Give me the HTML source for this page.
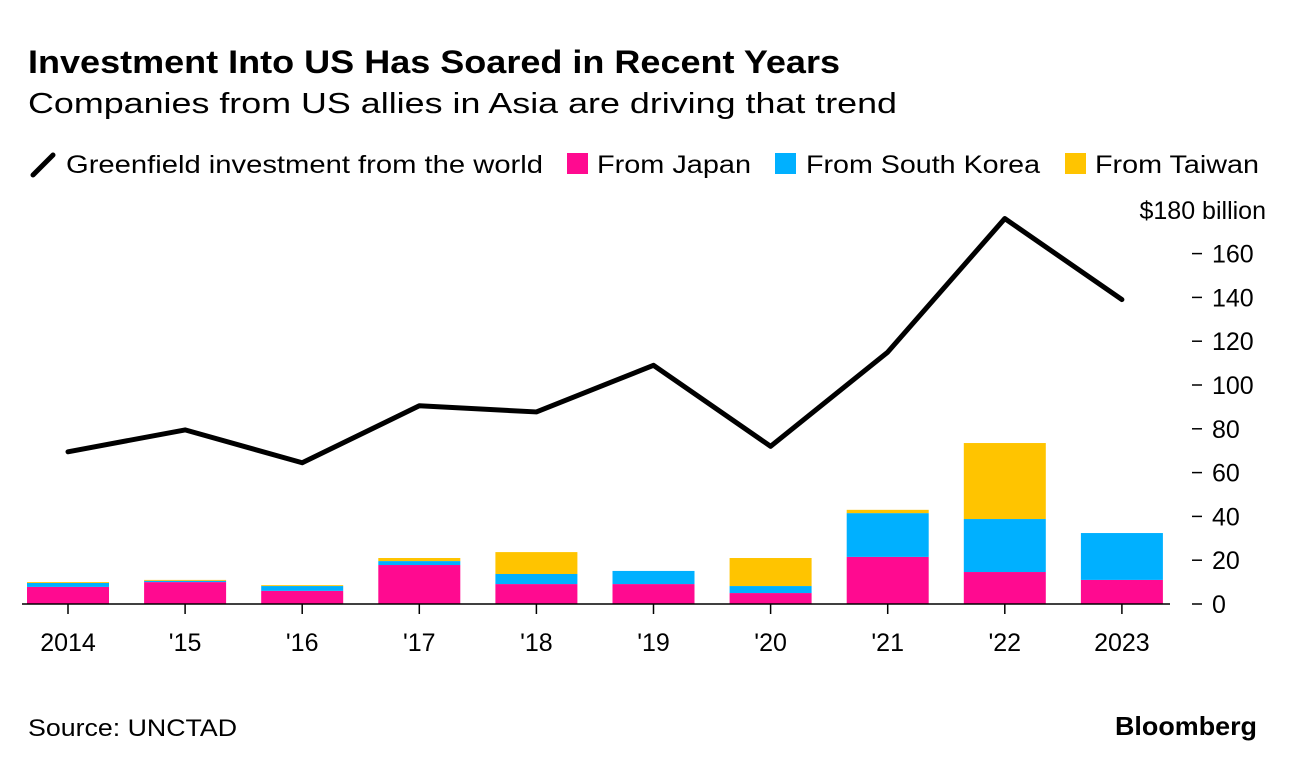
<!DOCTYPE html>
<html><head><meta charset="utf-8"><style>
body{margin:0;background:#fff;font-family:"Liberation Sans",sans-serif;}
svg text{font-family:"Liberation Sans",sans-serif;}
</style></head><body>
<svg width="1296" height="770" viewBox="0 0 1296 770">
<text x="28" y="73" font-size="32" font-weight="bold" fill="#000" textLength="812" lengthAdjust="spacingAndGlyphs">Investment Into US Has Soared in Recent Years</text>
<text x="28" y="113" font-size="29" fill="#000" textLength="869" lengthAdjust="spacingAndGlyphs">Companies from US allies in Asia are driving that trend</text>
<g font-size="25">
<line x1="33" y1="175" x2="53" y2="155" stroke="#000" stroke-width="5" stroke-linecap="round"/>
<text x="66" y="173" textLength="477" lengthAdjust="spacingAndGlyphs">Greenfield investment from the world</text>
<rect x="567" y="153" width="21" height="21" fill="#ff0a90"/>
<text x="597" y="173" textLength="154" lengthAdjust="spacingAndGlyphs">From Japan</text>
<rect x="775" y="153" width="21" height="21" fill="#00b0ff"/>
<text x="806" y="173" textLength="234" lengthAdjust="spacingAndGlyphs">From South Korea</text>
<rect x="1065" y="153" width="21" height="21" fill="#ffc400"/>
<text x="1095" y="173" textLength="164" lengthAdjust="spacingAndGlyphs">From Taiwan</text>
</g>
<g id="plot"></g>
<text x="28" y="736" font-size="24" textLength="209" lengthAdjust="spacingAndGlyphs">Source: UNCTAD</text>
<text x="1257" y="735" font-size="26" font-weight="bold" text-anchor="end" textLength="142" lengthAdjust="spacingAndGlyphs">Bloomberg</text>
</svg>
<script>
const years=["2014","'15","'16","'17","'18","'19","'20","'21","'22","2023"];
const world=[69.5,79.5,64.5,90.5,87.7,109,72,115,176,139];
const japan=[7.8,10,6,17.8,9.1,9.1,5,21.5,14.6,11];
const korea=[1.8,0.6,2.2,1.8,4.6,6,3.2,20,24.2,21.4];
const taiwan=[0.4,0.4,0.4,1.4,10,0,12.8,1.5,34.7,0];
const yTicks=[0,20,40,60,80,100,120,140,160];
const NS="http://www.w3.org/2000/svg";
const plot=document.getElementById('plot');
const yS=v=>604-v*2.19;
const xS=i=>68+i*117.1;
const bw=82;
function mk(tag,attrs){const e=document.createElementNS(NS,tag);for(const k in attrs)e.setAttribute(k,attrs[k]);plot.appendChild(e);return e;}
yTicks.forEach(t=>{
 const l=mk('line',{x1:1192,x2:1202,y1:yS(t),y2:yS(t),stroke:'#000','stroke-width':1.5});
 
 
 const tx=mk('text',{x:1212,y:yS(t)+9,'font-size':25});
 tx.textContent=t;
 
 
});
const topLabel=mk('text',{x:1266,y:yS(180)+9,'font-size':25,'text-anchor':'end'});
topLabel.textContent='$180 billion';


const series=[[japan,'#ff0a90','japan'],[korea,'#00b0ff','korea'],[taiwan,'#ffc400','taiwan']];
years.forEach((yr,i)=>{
 let base=0;
 series.forEach(([arr,c,n])=>{
  const v=arr[i];
  if(v>0){
   const r=mk('rect',{x:xS(i)-bw/2,y:yS(base+v),width:bw,height:yS(base)-yS(base+v),fill:c});
   
   
  }
  base+=v;
 });
 const tk=mk('line',{x1:xS(i),x2:xS(i),y1:604,y2:614,stroke:'#000','stroke-width':1.5});
 
 
 const t=mk('text',{x:xS(i),y:651,'font-size':25,'text-anchor':'middle'});
 t.textContent=yr;
 
 
});
const ax=mk('line',{x1:22,x2:1170,y1:604,y2:604,stroke:'#000','stroke-width':1.5});


const pl=mk('polyline',{points:world.map((v,i)=>xS(i)+','+yS(v)).join(' '),fill:'none',stroke:'#000','stroke-width':5,'stroke-linejoin':'round','stroke-linecap':'round'});


</script>
</body></html>
